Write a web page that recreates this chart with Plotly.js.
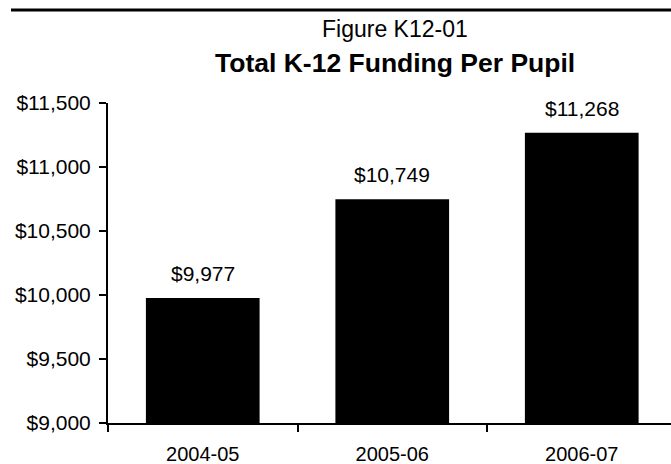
<!DOCTYPE html>
<html>
<head>
<meta charset="utf-8">
<script src="https://cdn.plot.ly/plotly-3.0.1.min.js"></script>
<style>html,body{margin:0;padding:0;background:#fff;overflow:hidden}</style>
</head>
<body>
<div id="chart" style="width:671px;height:464px"></div>
<script>
const categories = ["2004-05", "2005-06", "2006-07"];
const fundingPerPupil = [9977, 10749, 11268];
const valueLabels = ["$9,977", "$10,749", "$11,268"];
const yTickVals = [9000, 9500, 10000, 10500, 11000, 11500];
const yTickText = ["$9,000", "$9,500", "$10,000", "$10,500", "$11,000", "$11,500"];
const figureLabel = "Figure K12-01";
const chartTitle = "Total K-12 Funding Per Pupil";

const FONT = "Liberation Sans, Arial, Helvetica, sans-serif";

const trace = {
  type: "bar",
  x: categories,
  y: fundingPerPupil,
  width: 0.6,
  marker: {color: "#000000", line: {width: 0}},
  hoverinfo: "none"
};

const annotations = categories.map((c, i) => ({
  x: c, y: fundingPerPupil[i], xref: "x", yref: "y",
  text: valueLabels[i], showarrow: false,
  xanchor: "center", yanchor: "bottom", yshift: 11,
  font: {family: FONT, size: 21, color: "#000"}
}));
annotations.push({
  x: 0.51, y: 1.231, xref: "paper", yref: "paper",
  text: figureLabel, showarrow: false,
  xanchor: "center", yanchor: "middle",
  font: {family: FONT, size: 23, color: "#000"}
});

const layout = {
  width: 671, height: 464,
  margin: {l: 108, r: 0, t: 103, b: 41, pad: 0},
  paper_bgcolor: "#fff", plot_bgcolor: "#fff",
  showlegend: false,
  font: {family: FONT, size: 20, color: "#000"},
  title: {
    text: "<b>" + chartTitle + "</b>",
    x: 0.51, xref: "paper", xanchor: "center",
    y: 0.864, yref: "container", yanchor: "middle",
    font: {family: FONT, size: 26.5, color: "#000"}
  },
  xaxis: {
    type: "category",
    range: [-0.5, 2.471],
    showline: true, linecolor: "#000", linewidth: 2,
    ticks: "outside", tickson: "boundaries", ticklen: 7, tickwidth: 2, tickcolor: "#000",
    ticklabelstandoff: 12,
    showgrid: false, zeroline: false,
    tickfont: {family: FONT, size: 20, color: "#000"},
    fixedrange: true
  },
  yaxis: {
    range: [9000, 11500],
    tickmode: "array",
    tickvals: yTickVals,
    ticktext: yTickText,
    ticklabelstandoff: 4,
    showline: true, linecolor: "#000", linewidth: 2,
    ticks: "outside", ticklen: 7, tickwidth: 2, tickcolor: "#000",
    showgrid: false, zeroline: false,
    tickfont: {family: FONT, size: 21, color: "#000"},
    fixedrange: true
  },
  shapes: [{
    type: "line", xref: "paper", yref: "paper",
    x0: -0.1723, x1: 1, y0: 1.2906, y1: 1.2906,
    line: {color: "#000", width: 3}
  }],
  annotations: annotations
};

Plotly.newPlot("chart", [trace], layout, {displayModeBar: false, staticPlot: true});
</script>
</body>
</html>
